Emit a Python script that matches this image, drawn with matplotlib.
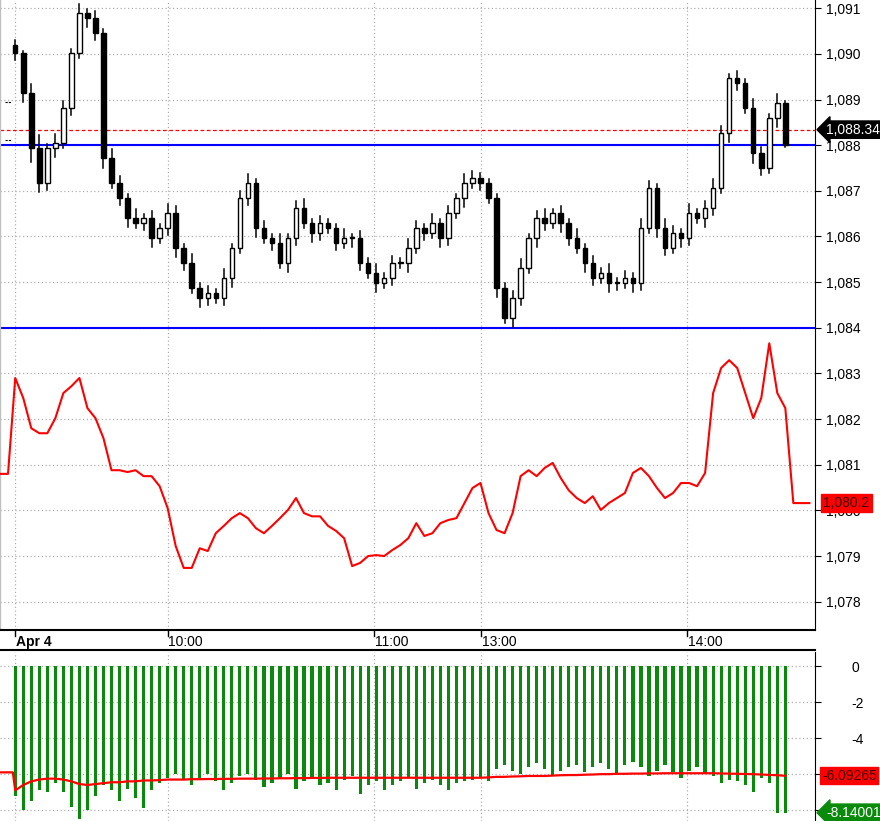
import matplotlib
matplotlib.use("Agg")
import matplotlib.pyplot as plt
from matplotlib.patches import Rectangle
import numpy as np

plt.rcParams['font.family'] = ['Liberation Sans', 'DejaVu Sans']

closes = [1.09001,1.08914,1.08793,1.08717,1.08793,1.08804,1.08881,1.09001,1.09089,1.09078,1.09045,1.08771,1.08717,1.08684,1.08640,1.08629,1.08640,1.08596,1.08618,1.08651,
          1.08574,1.08542,1.08487,1.08465,1.08476,1.08465,1.08509,1.08574,1.08684,1.08717,1.08618,1.08596,1.08585,1.08542,1.08596,1.08662,1.08629,1.08607,1.08629,1.08618,
          1.08585,1.08596,1.08596,1.08542,1.08520,1.08498,1.08509,1.08542,1.08542,1.08574,1.08618,1.08607,1.08629,1.08596,1.08651,1.08684,1.08717,1.08728,1.08717,1.08684,
          1.08487,1.08421,1.08465,1.08531,1.08596,1.08640,1.08629,1.08651,1.08629,1.08596,1.08574,1.08542,1.08509,1.08520,1.08498,1.08498,1.08509,1.08498,1.08618,1.08706,
          1.08618,1.08574,1.08607,1.08596,1.08651,1.08640,1.08662,1.08706,1.08826,1.08947,1.08936,1.08881,1.08782,1.08750,1.08859,1.08892,1.08800]
open0 = 1.09020
wick_hi = [0.00010,0.00005,0.00020,0.00030,0.00010,0.00020,0.00015,0.00010,0.00020,0.00010,0.00015,0.00010,0.00020,0.00015,0.00010,0.00020,0.00010,0.00015,0.00010,0.00020,
           0.00015,0.00010,0.00020,0.00010,0.00015,0.00010,0.00020,0.00010,0.00015,0.00020,0.00010,0.00015,0.00010,0.00020,0.00010,0.00015,0.00020,0.00010,0.00015,0.00010,
           0.00010,0.00020,0.00010,0.00015,0.00010,0.00020,0.00010,0.00015,0.00010,0.00020,0.00015,0.00010,0.00020,0.00010,0.00015,0.00010,0.00020,0.00015,0.00010,0.00010,
           0.00010,0.00010,0.00015,0.00020,0.00010,0.00015,0.00020,0.00010,0.00015,0.00010,0.00020,0.00010,0.00015,0.00010,0.00020,0.00010,0.00015,0.00010,0.00020,0.00015,
           0.00010,0.00020,0.00015,0.00010,0.00020,0.00010,0.00015,0.00020,0.00015,0.00010,0.00015,0.00010,0.00020,0.00015,0.00010,0.00020,0.00005]
wick_lo = [0.00015,0.00020,0.00030,0.00020,0.00015,0.00020,0.00010,0.00015,0.00010,0.00020,0.00015,0.00020,0.00010,0.00015,0.00020,0.00010,0.00015,0.00020,0.00010,0.00015,
           0.00020,0.00015,0.00010,0.00020,0.00015,0.00010,0.00015,0.00020,0.00010,0.00015,0.00020,0.00010,0.00015,0.00010,0.00020,0.00015,0.00010,0.00020,0.00015,0.00010,
           0.00015,0.00010,0.00020,0.00015,0.00010,0.00020,0.00010,0.00015,0.00010,0.00020,0.00010,0.00015,0.00010,0.00020,0.00015,0.00010,0.00020,0.00010,0.00015,0.00010,
           0.00020,0.00010,0.00020,0.00015,0.00010,0.00020,0.00015,0.00010,0.00020,0.00015,0.00010,0.00020,0.00015,0.00010,0.00020,0.00015,0.00010,0.00020,0.00015,0.00010,
           0.00020,0.00015,0.00010,0.00020,0.00015,0.00010,0.00020,0.00015,0.00010,0.00020,0.00015,0.00010,0.00020,0.00015,0.00010,0.00020,0.00005]
red_line = [1.08290,1.08246,1.08180,1.08169,1.08169,1.08202,1.08257,1.08272,1.08290,1.08224,1.08202,1.08158,1.08088,1.08088,1.08084,1.08088,1.08075,1.08075,1.08053,1.08005,
            1.07922,1.07874,1.07874,1.07917,1.07911,1.07950,1.07966,1.07983,1.07994,1.07983,1.07961,1.07950,1.07966,1.07983,1.08001,1.08027,1.07994,1.07987,1.07987,1.07966,
            1.07955,1.07939,1.07878,1.07885,1.07900,1.07902,1.07900,1.07913,1.07924,1.07939,1.07972,1.07944,1.07950,1.07972,1.07979,1.07983,1.08016,1.08049,1.08060,1.07994,
            1.07957,1.07950,1.07994,1.08075,1.08088,1.08075,1.08093,1.08104,1.08071,1.08044,1.08027,1.08016,1.08031,1.08001,1.08016,1.08027,1.08038,1.08082,1.08093,1.08075,
            1.08049,1.08027,1.08038,1.08060,1.08060,1.08053,1.08082,1.08257,1.08312,1.08329,1.08312,1.08257,1.08202,1.08246,1.08366,1.08257,1.08224,1.08016,1.08016,1.08016]
red_start = 1.0808
bars = [-7.2,-8.0,-7.5,-6.9,-7.0,-6.5,-7.0,-7.8,-8.5,-8.0,-7.2,-6.6,-6.9,-7.5,-6.8,-7.3,-7.9,-6.9,-6.5,-6.2,
        -6.0,-6.3,-6.6,-6.2,-6.0,-6.4,-6.9,-6.5,-6.1,-6.0,-6.3,-6.7,-6.5,-6.2,-6.0,-6.8,-6.4,-6.2,-6.6,-6.5,
        -6.9,-6.3,-6.1,-7.1,-6.6,-6.4,-6.9,-6.6,-6.4,-6.2,-6.8,-6.5,-6.3,-6.6,-6.9,-6.5,-6.4,-6.3,-6.2,-6.4,
        -5.7,-5.5,-5.8,-6.0,-5.6,-5.4,-5.7,-6.1,-5.8,-5.6,-5.5,-5.9,-5.6,-5.4,-5.7,-6.0,-5.5,-5.3,-5.6,-6.1,
        -5.8,-5.5,-5.9,-6.2,-5.8,-5.6,-6.0,-6.1,-6.5,-6.3,-6.4,-6.6,-7.0,-6.2,-6.5,-8.14,-8.14]
bar_line = [-6.9,-6.6,-6.4,-6.3,-6.25,-6.25,-6.3,-6.4,-6.55,-6.6,-6.55,-6.5,-6.45,-6.45,-6.4,-6.4,-6.35,-6.35,-6.33,-6.3,
            -6.3,-6.3,-6.28,-6.28,-6.27,-6.27,-6.26,-6.26,-6.25,-6.25,-6.25,-6.24,-6.24,-6.23,-6.23,-6.22,-6.22,-6.21,-6.21,-6.2,
            -6.2,-6.2,-6.2,-6.2,-6.2,-6.2,-6.2,-6.2,-6.2,-6.2,-6.2,-6.2,-6.2,-6.2,-6.2,-6.2,-6.2,-6.2,-6.2,-6.18,
            -6.15,-6.15,-6.13,-6.12,-6.1,-6.1,-6.1,-6.08,-6.06,-6.05,-6.05,-6.03,-6.02,-6.0,-6.0,-5.98,-5.98,-5.97,-5.97,-5.96,
            -5.96,-5.95,-5.95,-5.95,-5.95,-5.95,-5.95,-5.95,-5.96,-5.97,-5.98,-5.99,-6.0,-6.02,-6.04,-6.06,-6.09]
bar_start = -5.9
yticks_main = [1.078,1.079,1.080,1.081,1.082,1.083,1.084,1.085,1.086,1.087,1.088,1.089,1.090,1.091]
time_pos = [0.0, 19.0, 44.75, 58.1, 83.75]
time_labels = ["Apr 4", "10:00", "11:00", "13:00", "14:00"]
blue_levels = [1.0880, 1.0840]
last_mark = 1.08834

W, H = 880, 821
fig = plt.figure(figsize=(W/100, H/100), dpi=100)
n = len(closes)
xmin, xmax = -1.9, 99.7
axw = 815/W
ax = fig.add_axes([0, (H-630)/H, axw, 630/H])
ax2 = fig.add_axes([0, 0, axw, (821-652)/H])
tax = fig.add_axes([0, (H-650)/H, axw, 20/H])
FS = 10

opens = [open0] + closes[:-1]
for i in range(n):
    o, c = opens[i], closes[i]
    hi = max(o, c) + wick_hi[i]; lo = min(o, c) - wick_lo[i]
    ax.plot([i, i], [lo, hi], color="black", lw=1.1, zorder=3)
    up = c >= o
    b = max(abs(c-o), 0.00003)
    ax.add_patch(Rectangle((i-0.28, min(o, c)), 0.56, b, facecolor="white" if up else "black",
                           edgecolor="black", lw=1.0, zorder=4))
xs = np.arange(n+3)
ax.plot(np.concatenate([[-1.9, -0.9], xs]), [red_start, red_start] + red_line, color="red", lw=1.5, zorder=3)
for lv in blue_levels:
    ax.axhline(lv, color="blue", lw=1.5, zorder=2)
ax.axhline(last_mark, color="red", lw=0.9, ls=(0, (3, 2)), zorder=2)
ax.plot([-1.3, -0.5], [1.08895, 1.08895], color="black", lw=0.8, ls=(0, (2, 1)))
ax.plot([-1.3, -0.5], [1.08812, 1.08812], color="black", lw=0.8, ls=(0, (2, 1)))
ax.set_xlim(xmin, xmax)
ax.set_ylim(1.07738, 1.09118)
ax.set_yticks(yticks_main)
ax.set_yticklabels([f"{v:.3f}".replace(".", ",") for v in yticks_main])
ax.yaxis.tick_right()
ax.set_xticks(time_pos)
ax.set_xticklabels([])
ax.grid(True, color="#b0b0b0", ls=(0, (1, 2)), lw=0.9)
ax.tick_params(axis="y", length=4, labelsize=FS, pad=4)
ax.tick_params(axis="x", length=0)
for s in ["top", "left", "bottom"]:
    ax.spines[s].set_visible(False)
ax.axvline(xmin+0.05, color="#c0c0c0", lw=1)
ax.annotate("1,088.34", xy=(1, last_mark), xycoords=("axes fraction", "data"), xytext=(8, 0),
            textcoords="offset points", va="center", fontsize=FS, color="white",
            bbox=dict(boxstyle="larrow,pad=0.12", fc="black", ec="black"), annotation_clip=False, zorder=10)
ax.annotate("1,080.2", xy=(1, red_line[-1]), xycoords=("axes fraction", "data"), xytext=(6, 0),
            textcoords="offset points", va="center", fontsize=FS, color="#400000",
            bbox=dict(boxstyle="square,pad=0.15", fc="red", ec="red"), annotation_clip=False, zorder=10)

tax.set_xlim(xmin, xmax); tax.set_ylim(0, 1)
tax.set_yticks([]); tax.set_xticks([])
for s in ["left", "right"]:
    tax.spines[s].set_visible(False)
tax.spines["top"].set_linewidth(1.5)
tax.spines["bottom"].set_linewidth(1.5)
for p, l in zip(time_pos, time_labels):
    tax.plot([p, p], [1, 0.72], color="black", lw=1)
    tax.text(p+0.1, 0.4, l, fontsize=FS, va="center", ha="left",
             fontweight="bold" if l == "Apr 4" else "normal")

ax2.bar(np.arange(n), bars, width=0.4, color="#0a8a0a", zorder=2)
ax2.plot(np.concatenate([[-1.9, -0.3], np.arange(n)]), [bar_start, bar_start] + bar_line, color="red", lw=1.6, zorder=3)
ax2.set_xlim(xmin, xmax)
ax2.set_ylim(-8.6, 0.78)
ax2.set_yticks([0, -2, -4, -6, -8])
ax2.set_yticklabels(["0", "-2", "-4", "", ""])
ax2.yaxis.tick_right()
ax2.set_xticks(time_pos)
ax2.set_xticklabels([])
ax2.grid(True, color="#b0b0b0", ls=(0, (1, 2)), lw=0.9)
ax2.tick_params(axis="y", length=4, labelsize=FS, pad=22)
ax2.tick_params(axis="x", length=0)
for s in ["top", "left", "bottom"]:
    ax2.spines[s].set_visible(False)
ax2.annotate("-6.09265", xy=(1, bar_line[-1]), xycoords=("axes fraction", "data"), xytext=(5, 0),
             textcoords="offset points", va="center", fontsize=FS, color="#400000",
             bbox=dict(boxstyle="square,pad=0.12", fc="red", ec="red"), annotation_clip=False, zorder=10)
ax2.annotate("-8.14001", xy=(1, -8.14), xycoords=("axes fraction", "data"), xytext=(8, 0),
             textcoords="offset points", va="center", fontsize=FS, color="white",
             bbox=dict(boxstyle="larrow,pad=0.12", fc="#0a8a0a", ec="#0a8a0a"), annotation_clip=False, zorder=10)

fig.savefig("out.png", dpi=100)
